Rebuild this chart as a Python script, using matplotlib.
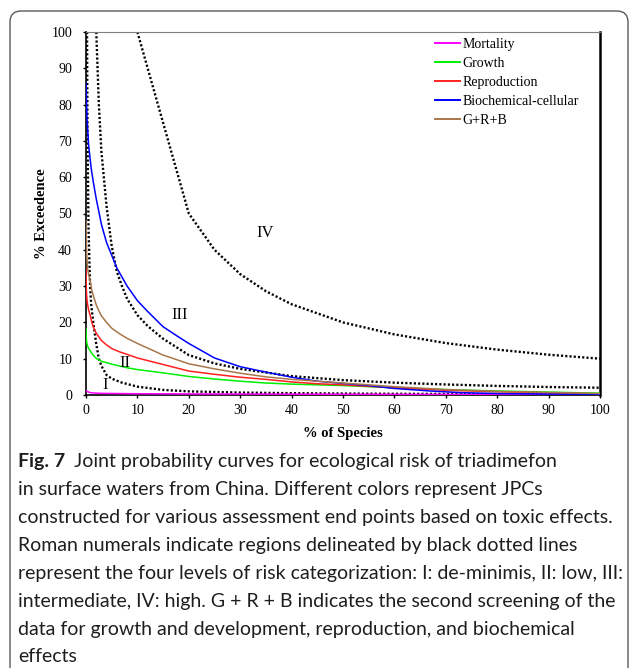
import matplotlib
matplotlib.use("Agg")
import matplotlib.pyplot as plt
from matplotlib.lines import Line2D
from matplotlib.patches import FancyBboxPatch
from matplotlib.transforms import IdentityTransform

# ---- values (% of species vs % exceedence) ----
mort_x = [0, 0.5, 1, 3, 10, 20, 50, 100]
mort_y = [1.2, 0.8, 0.6, 0.45, 0.35, 0.3, 0.2, 0.1]

growth_x = [0, 0.05, 0.1, 0.2, 0.3, 0.5, 0.8, 1.1, 1.5, 2, 2.5, 3, 4, 5, 6.5, 8, 10, 15, 20, 25, 30, 35, 40, 45, 50, 60, 70, 80, 90, 100]
growth_y = [18.2, 16, 15, 14.2, 13.5, 12.9, 12.2, 11.5, 10.8, 10.1, 9.7, 9.3, 8.9, 8.5, 8.0, 7.5, 7.0, 6.1, 5.1, 4.4, 3.8, 3.3, 3.0, 2.8, 2.6, 2.0, 1.5, 1.1, 0.8, 0.5]

repro_x = [0, 0.05, 0.1, 0.2, 0.3, 0.5, 0.8, 1.1, 1.5, 2, 2.5, 3, 4, 5, 6.5, 8, 10, 15, 20, 25, 30, 35, 40, 45, 50, 60, 70, 80, 90, 100]
repro_y = [34.7, 30, 28, 26.2, 25, 23.5, 22, 20.2, 18.5, 17, 16, 15, 13.8, 12.8, 11.9, 11.2, 10.2, 8.4, 6.6, 5.7, 4.9, 4.3, 3.6, 3.1, 2.8, 2.0, 1.3, 0.9, 0.6, 0.3]

bio_x = [0, 0.2, 0.5, 1, 1.5, 2, 3, 4, 5, 6, 8, 10, 12, 15, 18, 20, 25, 30, 35, 40, 45, 50, 55, 60, 67, 73, 80, 90, 100]
bio_y = [86, 76, 69, 62.5, 58, 54, 47, 42, 38.5, 35, 30, 26, 23, 18.8, 16, 14.2, 10.2, 7.8, 6.3, 4.9, 3.8, 3.2, 2.6, 1.8, 1.1, 0.65, 0.4, 0.25, 0.15]

grb_x = [0, 0.05, 0.1, 0.2, 0.3, 0.5, 0.8, 1.1, 1.5, 2, 2.5, 3, 4, 5, 6.5, 8, 10, 15, 20, 25, 30, 35, 40, 45, 50, 60, 70, 80, 90, 100]
grb_y = [48, 43, 40, 37, 35, 33.2, 31.5, 29, 27, 24.8, 23.2, 21.8, 20, 18.4, 16.9, 15.6, 14.2, 11, 8.6, 7.2, 6.0, 5.0, 4.3, 3.8, 3.3, 2.3, 1.5, 1.0, 0.7, 0.4]

# risk-level boundaries (black dotted)
lvl1_x = [0.2, 0.3, 0.5, 0.8, 1, 1.5, 2, 2.5, 3, 4, 5, 7, 10, 15, 20, 30, 40, 50, 60, 70, 80, 90, 100]
lvl1_y = [100, 70, 45, 30, 25, 19, 14, 10, 8, 5.5, 4.5, 3.4, 2.3, 1.4, 1.0, 0.67, 0.5, 0.4, 0.33, 0.29, 0.25, 0.22, 0.2]
lvl2_x = [2, 2.5, 3, 4, 5, 6, 7, 8, 10, 12, 15, 20, 25, 30, 40, 50, 60, 70, 80, 90, 100]
lvl2_y = [100, 80, 67, 52, 41, 34, 30, 26.5, 22, 19, 15.5, 11, 8.7, 7.2, 5.2, 4.1, 3.4, 2.9, 2.5, 2.2, 2.0]
lvl3_x = [10, 20, 25, 30, 35, 40, 50, 60, 70, 80, 90, 100]
lvl3_y = [100, 50, 40, 33.3, 28.6, 25, 20, 16.7, 14.3, 12.5, 11.1, 10]

series_names = ["Mortality", "Growth", "Reproduction", "Biochemical-cellular", "G+R+B"]
series_colors = ["#FF00FF", "#00EE00", "#FF2020", "#0000FF", "#A8764A"]

numerals = ["I", "II", "III", "IV"]
numeral_x = [3.7, 7.6, 18.3, 34.8]
numeral_y = [2.8, 8.7, 22, 44.5]

caption_lines = [
    "Joint probability curves for ecological risk of triadimefon",
    "in surface waters from China. Different colors represent JPCs",
    "constructed for various assessment end points based on toxic effects.",
    "Roman numerals indicate regions delineated by black dotted lines",
    "represent the four levels of risk categorization: I: de-minimis, II: low, III:",
    "intermediate, IV: high. G + R + B indicates the second screening of the",
    "data for growth and development, reproduction, and biochemical",
    "effects",
]

plt.rcParams['font.family'] = ['Liberation Serif', 'DejaVu Serif']

W, H = 630, 668
fig = plt.figure(figsize=(W / 100, H / 100), dpi=100)

# rounded frame around figure + caption
box = FancyBboxPatch((10, -30), 618, H - 11 + 30,
                     boxstyle="round,pad=0,rounding_size=11",
                     transform=IdentityTransform(), fill=False,
                     edgecolor="#5a5a5a", linewidth=1.0)
fig.patches.append(box)

ax = fig.add_axes([86 / W, 1 - 395 / H, 514 / W, 363 / H])

dot = (0, (0.9, 0.9))
for xs, ys in [(lvl1_x, lvl1_y), (lvl2_x, lvl2_y), (lvl3_x, lvl3_y)]:
    ax.plot(xs, ys, color="black", lw=1.7, linestyle=dot, zorder=2)

curves = [(mort_x, mort_y), (growth_x, growth_y), (repro_x, repro_y),
          (bio_x, bio_y), (grb_x, grb_y)]
for (xs, ys), c in zip(curves, series_colors):
    ax.plot(xs, ys, color=c, lw=1.1, zorder=3)

for t, x, y in zip(numerals, numeral_x, numeral_y):
    ax.text(x, y, t, fontsize=12, ha="center", va="center", zorder=4)

ax.set_xlim(0, 100)
ax.set_ylim(0, 100)
ax.set_xticks(range(0, 101, 10))
ax.set_yticks(range(0, 101, 10))
ax.tick_params(axis="y", direction="out", length=2.5, width=1, pad=7.5, labelsize=10)
ax.tick_params(axis="x", direction="out", length=2.5, width=1, pad=4, labelsize=10)

ax.spines["top"].set_color("#7f7f7f")
ax.spines["top"].set_linewidth(0.8)
ax.spines["right"].set_linewidth(1.8)
ax.spines["left"].set_linewidth(1.2)
ax.spines["bottom"].set_linewidth(1.2)

ax.set_xlabel("% of Species", fontsize=10.5, fontweight="bold")
ax.set_ylabel("% Exceedence", fontsize=10.5, fontweight="bold")
ax.xaxis.set_label_coords(0.5, -0.088)
ax.yaxis.set_label_coords(-0.074, 0.5)

handles = [Line2D([], [], color=c, lw=1.4) for c in series_colors]
ax.legend(handles, series_names, loc="upper left", bbox_to_anchor=(0.679, 0.983),
          frameon=False, fontsize=10, handlelength=1.8, handletextpad=0.2,
          labelspacing=0.42, borderpad=0, borderaxespad=0)

# caption
renderer = fig.canvas.get_renderer()
cap_font = ["Lato", "DejaVu Sans"]
cap_color = "#1e1e1e"
probe = fig.text(0, 0, caption_lines[4], family=cap_font, fontsize=10)
w = probe.get_window_extent(renderer).width
probe.remove()
cap_size = 10 * 604 / w

x0 = 18 / W
y_base = [467, 495, 523, 551, 579, 607, 635, 662]
fig_lbl = fig.text(x0, 1 - y_base[0] / H, "Fig. 7", family=cap_font, fontsize=cap_size,
                   fontweight="bold", va="baseline", color=cap_color)
fw = fig_lbl.get_window_extent(renderer).width
fig.text(x0 + (fw + 9) / W, 1 - y_base[0] / H, caption_lines[0], family=cap_font,
         fontsize=cap_size, va="baseline", color=cap_color)
for line, yb in zip(caption_lines[1:], y_base[1:]):
    fig.text(x0, 1 - yb / H, line, family=cap_font, fontsize=cap_size,
             va="baseline", color=cap_color)

fig.savefig("out.png", dpi=100)
